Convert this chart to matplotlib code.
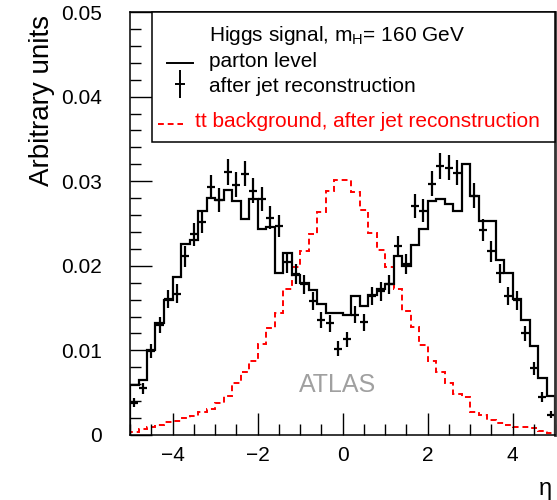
import numpy as np
import matplotlib
matplotlib.use("Agg")
import matplotlib.pyplot as plt
from matplotlib.patches import Rectangle
from matplotlib.ticker import MultipleLocator

plt.rcParams['font.family'] = ['Liberation Sans', 'DejaVu Sans']
plt.rcParams['mathtext.fontset'] = 'custom'
plt.rcParams['mathtext.rm'] = 'Liberation Sans'
plt.rcParams['mathtext.it'] = 'Liberation Sans:italic'

# eta bins, 0.2 wide
eta_edges = np.round(np.arange(-5.0, 5.01, 0.2), 1)
eta_centers = np.round(eta_edges[:-1] + 0.1, 1)

# Higgs signal, parton level (solid histogram)
parton = [0.0059, 0.0065, 0.0101, 0.0132, 0.0159, 0.0187, 0.0226, 0.0231, 0.0265, 0.0280,
          0.0278, 0.0290, 0.0277, 0.0255, 0.0279, 0.0244, 0.0246, 0.0192, 0.0215, 0.0189,
          0.0180, 0.0171, 0.0155, 0.0144, 0.0144, 0.0142, 0.0164, 0.0152, 0.0166, 0.0172,
          0.0179, 0.0211, 0.0200, 0.0225, 0.0243, 0.0277, 0.0279, 0.0273, 0.0265, 0.0320,
          0.0283, 0.0253, 0.0253, 0.0207, 0.0191, 0.0161, 0.0136, 0.0105, 0.0067, 0.0046]

# Higgs signal after jet reconstruction (points)
jets = [0.0038, 0.0055, 0.0099, 0.0130, 0.0161, 0.0167, 0.0211, 0.0237, 0.0252, 0.0293,
        0.0278, 0.0311, 0.0296, 0.0309, 0.0289, 0.0279, 0.0257, 0.0247, 0.0204, 0.0190,
        0.0178, 0.0158, 0.0136, 0.0132, 0.0102, 0.0113, 0.0142, 0.0133, 0.0164, 0.0170,
        0.0178, 0.0223, 0.0202, 0.0271, 0.0265, 0.0297, 0.0318, 0.0316, 0.0310, np.nan,
        0.0283, 0.0242, 0.0217, 0.0191, 0.0164, 0.0159, 0.0120, 0.0079, 0.0045, 0.0024]
jets_err = [0.00052, 0.00063, 0.00085, 0.00097, 0.00108, 0.00110, 0.00123, 0.00131, 0.00135, 0.00146,
            0.00142, 0.00150, 0.00146, 0.00150, 0.00145, 0.00142, 0.00136, 0.00134, 0.00121, 0.00117,
            0.00113, 0.00107, 0.00099, 0.00098, 0.00086, 0.00090, 0.00101, 0.00098, 0.00109, 0.00111,
            0.00113, 0.00127, 0.00121, 0.00140, 0.00138, 0.00146, 0.00152, 0.00151, 0.00150, np.nan,
            0.00143, 0.00132, 0.00125, 0.00117, 0.00109, 0.00107, 0.00093, 0.00076, 0.00057, 0.00042]

# tt background after jet reconstruction (red dashed)
ttbar = [0.0003, 0.0007, 0.0009, 0.0012, 0.0015, 0.0017, 0.0020, 0.0023, 0.0027, 0.0031,
         0.0038, 0.0046, 0.0061, 0.0074, 0.0088, 0.0108, 0.0127, 0.0144, 0.0172, 0.0198,
         0.0217, 0.0238, 0.0264, 0.0289, 0.0301, 0.0301, 0.0287, 0.0266, 0.0239, 0.0219,
         0.0199, 0.0172, 0.0147, 0.0128, 0.0106, 0.0088, 0.0074, 0.0061, 0.0049, 0.0045,
         0.0027, 0.0024, 0.0018, 0.0014, 0.0012, 0.0010, 0.0009, 0.0008, 0.0005, 0.0002]

ytick_vals = [0, 0.01, 0.02, 0.03, 0.04, 0.05]
ytick_labels = ['0', '0.01', '0.02', '0.03', '0.04', '0.05']

fig = plt.figure(figsize=(5.57, 5.0), dpi=100)
ax = fig.add_axes([130/557, 65/500, 425/557, 423/500])

ax.stairs(ttbar, eta_edges, color='red', lw=1.4, linestyle=(0, (3, 2)))
ax.stairs(parton, eta_edges, color='black', lw=1.6)
ax.errorbar(eta_centers, jets, yerr=jets_err, xerr=0.09, fmt='none',
            ecolor='black', elinewidth=1.6, capsize=0)

ax.set_xlim(-5, 5)
ax.set_ylim(0, 0.05)
ax.xaxis.set_major_locator(MultipleLocator(2))
ax.xaxis.set_minor_locator(MultipleLocator(0.5))
ax.set_yticks(ytick_vals)
ax.set_yticklabels(ytick_labels)
ax.yaxis.set_minor_locator(MultipleLocator(0.002))

ax.tick_params(which='both', direction='in', top=False, right=False, width=1.0)
ax.tick_params(which='major', length=15.5)
ax.tick_params(which='minor', length=8)
ax.tick_params(axis='x', which='major', labelsize=15, pad=8)
ax.tick_params(axis='y', which='major', labelsize=15, pad=20)

for s in ['left', 'bottom', 'top']:
    ax.spines[s].set_linewidth(1.1)
ax.spines['right'].set_linewidth(2.0)
ax.spines['right'].set_color('#333333')

ax.set_ylabel('Arbitrary units', fontsize=20, loc='top')
ax.yaxis.set_label_coords(-0.176, 0.993)
ax.set_xlabel('η', fontsize=17, loc='right')
ax.xaxis.set_label_coords(0.992, -0.102)

# legend box
ax.add_patch(Rectangle((0.052, 0.693), 0.948, 0.307, transform=ax.transAxes,
                       facecolor='white', edgecolor='black', lw=1.1, clip_on=False, zorder=5))
ax.text(0.186, 0.9456, 'Higgs signal, m$_{\\rm H}$= 160 GeV', transform=ax.transAxes,
        fontsize=15, va='center', ha='left', zorder=6)
ax.plot([0.087, 0.148], [0.8794, 0.8794], color='black', lw=1.4, transform=ax.transAxes,
        zorder=6, clip_on=False)
ax.text(0.186, 0.8818, 'parton level', transform=ax.transAxes,
        fontsize=15, va='center', ha='left', zorder=6)
ax.errorbar([0.1176], [0.8298], yerr=[0.033], xerr=[0.012], fmt='none', ecolor='black',
            elinewidth=1.4, capsize=0, transform=ax.transAxes, zorder=6, clip_on=False)
ax.text(0.186, 0.8227, 'after jet reconstruction', transform=ax.transAxes,
        fontsize=15, va='center', ha='left', zorder=6)
ax.plot([0.066, 0.125], [0.7352, 0.7352], color='red', lw=1.4, linestyle=(0, (3, 2)),
        transform=ax.transAxes, zorder=6, clip_on=False)
ax.text(0.153, 0.74, 'tt background, after jet reconstruction', transform=ax.transAxes,
        fontsize=15, va='center', ha='left', color='red', zorder=6)

ax.text(0.489, 0.118, 'ATLAS', transform=ax.transAxes, fontsize=18, color='#a0a0a0',
        ha='center', va='center')

fig.savefig('out.png', dpi=100)
